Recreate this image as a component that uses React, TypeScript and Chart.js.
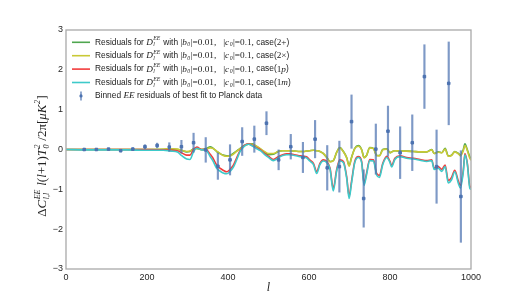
import React, { useEffect, useRef } from "react";
import { Chart, registerables } from "chart.js";
Chart.register(...registerables);

// ---- data ----
const curveL = [
  0, 50, 100, 150, 200, 240, 260, 275, 285, 298,
  306, 315, 323, 335, 347, 356, 362, 372, 380, 388,
  397, 405, 413, 421, 430, 440, 450, 460, 471, 480,
  490, 500, 512, 524, 535, 545, 553, 565, 578, 586,
  594, 602, 611, 619, 627, 635, 644, 652, 660, 668,
  676, 685, 693, 699, 705, 713, 722, 730, 736, 742,
  750, 759, 767, 774, 782, 792, 800, 804, 812, 825,
  841, 858, 874, 891, 903, 909, 919, 928, 936, 944,
  952, 960, 969, 974, 981, 985, 991, 997, 1000,
];
const case2plus = [
  0, 0, 0, 0, 0, 0, 0.01, 0, -0.02, -0.06,
  -0.05, 0.02, 0.03, 0, 0.03, 0.07, 0.04, -0.05, -0.1, -0.14,
  -0.16, -0.15, -0.1, -0.04, 0.03, 0.1, 0.13, 0.14, 0.07, 0.01,
  -0.07, -0.13, -0.12, -0.05, -0.03, -0.03, -0.03, -0.04, -0.05, -0.05,
  -0.04, -0.03, -0.02, -0.03, -0.05, -0.1, -0.2, -0.3, -0.28, -0.08,
  0.05, -0.05, -0.2, -0.4, -0.2, 0.03, 0.1, 0, -0.2, -0.15,
  0.05, 0.03, -0.15, -0.15, 0, 0.02, -0.08, -0.06, -0.03, -0.04,
  -0.04, -0.05, -0.06, -0.06, 0, -0.1, -0.06, -0.08, 0.03, -0.16,
  -0.14, -0.05, -0.1, -0.14, 0, 0.14, -0.01, -0.18, -0.23,
];
const case2times = [
  0, 0, 0, 0, 0, 0.01, 0.02, 0.01, -0.02, -0.05,
  -0.04, 0.01, 0.02, 0, 0.01, 0.04, 0.03, -0.04, -0.1, -0.15,
  -0.17, -0.16, -0.12, -0.05, 0.02, 0.09, 0.13, 0.13, 0.08, 0.02,
  -0.05, -0.1, -0.1, -0.05, -0.03, -0.03, -0.03, -0.04, -0.05, -0.05,
  -0.04, -0.03, -0.02, -0.03, -0.05, -0.1, -0.2, -0.31, -0.28, -0.08,
  0.04, -0.06, -0.21, -0.42, -0.21, 0.02, 0.08, -0.01, -0.21, -0.15,
  0.04, 0.02, -0.15, -0.16, -0.01, 0.01, -0.08, -0.06, -0.03, -0.04,
  -0.04, -0.05, -0.06, -0.06, -0.01, -0.1, -0.07, -0.08, 0.01, -0.17,
  -0.15, -0.06, -0.11, -0.16, -0.03, 0.1, -0.03, -0.22, -0.27,
];
const case1p = [
  0, 0, 0, 0, 0, -0.01, -0.02, -0.03, -0.08, -0.14,
  -0.14, 0, 0.06, 0, -0.01, -0.12, -0.2, -0.39, -0.47, -0.52,
  -0.56, -0.5, -0.4, -0.22, -0.02, 0.1, 0.14, 0.1, 0.04, -0.01,
  -0.1, -0.17, -0.25, -0.18, -0.13, -0.11, -0.11, -0.13, -0.16, -0.17,
  -0.18, -0.26, -0.35, -0.55, -0.35, -0.26, -0.3, -0.47, -0.98, -0.52,
  -0.26, -0.3, -0.68, -1.17, -0.8, -0.3, -0.18, -0.3, -0.85, -0.6,
  -0.25, -0.26, -0.6, -0.65, -0.35, -0.17, -0.3, -0.4, -0.22, -0.16,
  -0.2, -0.22, -0.25, -0.28, -0.26, -0.47, -0.43, -0.5, -0.39, -0.78,
  -0.7, -0.52, -0.8, -0.9, -0.52, -0.1, -0.35, -0.92, -0.95,
];
const case1m = [
  0, -0.01, -0.01, -0.01, -0.02, -0.02, -0.04, -0.06, -0.15, -0.24,
  -0.25, -0.05, 0.03, -0.01, -0.03, -0.18, -0.27, -0.47, -0.54, -0.59,
  -0.61, -0.55, -0.45, -0.27, -0.05, 0.08, 0.13, 0.09, 0.02, -0.03,
  -0.12, -0.2, -0.28, -0.21, -0.15, -0.13, -0.13, -0.15, -0.18, -0.19,
  -0.21, -0.29, -0.38, -0.6, -0.38, -0.29, -0.33, -0.5, -1.04, -0.56,
  -0.29, -0.33, -0.72, -1.23, -0.85, -0.33, -0.2, -0.33, -0.9, -0.64,
  -0.28, -0.29, -0.64, -0.7, -0.38, -0.2, -0.33, -0.44, -0.25, -0.18,
  -0.22, -0.24, -0.27, -0.3, -0.28, -0.5, -0.47, -0.55, -0.43, -0.84,
  -0.76, -0.56, -0.86, -0.97, -0.56, -0.13, -0.38, -0.97, -1.0,
];
const binL = [45, 75, 105, 135, 165, 195, 225, 255, 285, 315, 345, 375, 405, 435, 465, 495,
  525, 555, 585, 615, 645, 675, 705, 735, 765, 795, 825, 855, 885, 915, 945, 975];
const binV = [0.0, 0.0, 0.01, -0.03, 0.01, 0.07, 0.1, 0.06, 0.07, 0.17, -0.01, -0.42, -0.26, 0.2, 0.26, 0.66,
  -0.26, 0.07, -0.2, 0.26, -0.46, -0.43, 0.7, -1.23, 0.01, 0.46, -0.08, 0.17, 1.83, -0.43, 1.66, -1.18];
const binE = [0.01, 0.01, 0.02, 0.03, 0.03, 0.05, 0.06, 0.11, 0.16, 0.24, 0.31, 0.33, 0.38, 0.35, 0.33, 0.29,
  0.25, 0.31, 0.38, 0.47, 0.56, 0.64, 0.67, 0.72, 0.63, 0.63, 0.65, 0.7, 0.8, 0.92, 1.04, 1.15];
const xTicks = [0, 200, 400, 600, 800, 1000];
const yTicks = [-3, -2, -1, 0, 1, 2, 3];

const GREEN = "#4fa64f";
const YELLOW = "#c9c936";
const RED = "#f23c3c";
const CYAN = "#3ecaca";
const BLUE = "#4c72b0";

const SANS = "'Liberation Sans', Arial, sans-serif";
const SERIF = "'Liberation Serif', 'DejaVu Serif', serif";

type Seg = { t?: string; it?: boolean; serif?: boolean; sup?: string; sub?: string };

function drawRich(ctx: CanvasRenderingContext2D, x: number, y: number, segs: Seg[], size: number, draw = true): number {
  let cx = x;
  for (const s of segs) {
    if (s.sup !== undefined || s.sub !== undefined) {
      const ss = size * 0.68;
      ctx.font = `italic ${ss}px ${SERIF}`;
      let w = 0;
      if (s.sup) {
        const w1 = ctx.measureText(s.sup).width;
        if (draw) ctx.fillText(s.sup, cx + 0.5, y - size * 0.4);
        w = Math.max(w, w1);
      }
      if (s.sub) {
        const w2 = ctx.measureText(s.sub).width;
        if (draw) ctx.fillText(s.sub, cx + 0.5, y + size * 0.32);
        w = Math.max(w, w2);
      }
      cx += w + 1;
    } else if (s.t) {
      const fam = s.serif || s.it ? SERIF : SANS;
      ctx.font = `${s.it ? "italic " : ""}${s.serif || s.it ? size * 1.1 : size}px ${fam}`;
      if (draw) ctx.fillText(s.t, cx, y);
      cx += ctx.measureText(s.t).width;
    }
  }
  return cx - x;
}

function legendSegs(tail: Seg[]): Seg[] {
  return [
    { t: "Residuals for " },
    { t: "D", it: true },
    { sup: "EE", sub: "l" },
    { t: " with " },
    { t: "|", serif: true },
    { t: "b", it: true },
    { sub: "0" },
    { t: "|=0.01,", serif: true },
    { t: "   " },
    { t: "|", serif: true },
    { t: "c", it: true },
    { sub: "0" },
    { t: "|=0.1,", serif: true },
    { t: " case(" },
    ...tail,
    { t: ")" },
  ];
}

const legendRows: { color: string; segs: Seg[]; err?: boolean }[] = [
  { color: GREEN, segs: legendSegs([{ t: "2+", serif: true }]) },
  { color: YELLOW, segs: legendSegs([{ t: "2×", serif: true }]) },
  { color: RED, segs: legendSegs([{ t: "1", serif: true }, { t: "p", it: true }]) },
  { color: CYAN, segs: legendSegs([{ t: "1", serif: true }, { t: "m", it: true }]) },
  { color: BLUE, err: true, segs: [{ t: "Binned " }, { t: "EE", it: true }, { t: " residuals of best fit to Planck data" }] },
];

const decorPlugin = {
  id: "decor",
  afterDraw(chart: any) {
    const ctx: CanvasRenderingContext2D = chart.ctx;
    const a = chart.chartArea;
    ctx.save();
    // frame
    ctx.strokeStyle = "#a9a9a9";
    ctx.lineWidth = 1.3;
    ctx.strokeRect(a.left, a.top, a.right - a.left, a.bottom - a.top);
    // legend
    ctx.textBaseline = "middle";
    ctx.textAlign = "left";
    legendRows.forEach((r, i) => {
      const y = a.top + 12.3 + i * 13.4;
      if (r.err) {
        ctx.strokeStyle = r.color;
        ctx.lineWidth = 1.2;
        ctx.beginPath();
        ctx.moveTo(81, y - 4.5);
        ctx.lineTo(81, y + 4.5);
        ctx.stroke();
        ctx.fillStyle = r.color;
        ctx.beginPath();
        ctx.arc(81, y, 1.6, 0, Math.PI * 2);
        ctx.fill();
      } else {
        ctx.strokeStyle = r.color;
        ctx.lineWidth = 1.6;
        ctx.beginPath();
        ctx.moveTo(72, y);
        ctx.lineTo(90, y);
        ctx.stroke();
      }
      ctx.fillStyle = "#222";
      drawRich(ctx, 95, y, r.segs, 8.4);
    });
    // x title
    ctx.fillStyle = "#222";
    ctx.textAlign = "center";
    ctx.font = `italic 12px ${SERIF}`;
    ctx.fillText("l", (a.left + a.right) / 2, 288);
    // y title
    const ySegs: Seg[] = [
      { t: "Δ", serif: true },
      { t: "C", it: true },
      { sup: "EE", sub: "l,l" },
      { t: " ", serif: true },
      { t: "l", it: true },
      { t: "(", serif: true },
      { t: "l", it: true },
      { t: "+1)", serif: true },
      { t: "T", it: true },
      { sup: "2", sub: "0" },
      { t: " /2π[", serif: true },
      { t: "μK", it: true },
      { sup: "2" },
      { t: "]", serif: true },
    ];
    ctx.textAlign = "left";
    const w = drawRich(ctx, 0, 0, ySegs, 11.8, false);
    ctx.translate(43, 156);
    ctx.rotate(-Math.PI / 2);
    drawRich(ctx, -w / 2, 0, ySegs, 11.8);
    ctx.restore();
  },
};

export default function App() {
  const ref = useRef<HTMLCanvasElement | null>(null);
  useEffect(() => {
    document.body.style.margin = "0";
    const mk = (vals: number[]) => curveL.map((l, i) => ({ x: l, y: vals[i] }));
    const lineDs = (label: string, vals: number[], color: string, order: number) => ({
      type: "line" as const,
      label,
      data: mk(vals),
      borderColor: color,
      backgroundColor: color,
      borderWidth: 1.6,
      pointRadius: 0,
      cubicInterpolationMode: "monotone" as const,
      order,
    });
    const chart = new Chart(ref.current as HTMLCanvasElement, {
      type: "line",
      data: {
        datasets: [
          {
            type: "scatter",
            label: "Binned EE residuals of best fit to Planck data",
            data: binL.map((l, i) => ({ x: l, y: binV[i] })),
            backgroundColor: BLUE,
            borderColor: BLUE,
            pointRadius: 1.8,
            pointStyle: "rect",
            order: 0,
          } as any,
          {
            type: "bar",
            label: "err",
            data: binL.map((l, i) => ({ x: l, y: [binV[i] - binE[i], binV[i] + binE[i]] })),
            backgroundColor: "rgba(76,114,176,0.72)",
            barThickness: 1.5,
            order: 1,
          } as any,
          lineDs("case(1m)", case1m, CYAN, 2),
          lineDs("case(1p)", case1p, RED, 3),
          lineDs("case(2x)", case2times, YELLOW, 4),
          lineDs("case(2+)", case2plus, GREEN, 5),
        ],
      },
      options: {
        animation: false,
        responsive: false,
        devicePixelRatio: 1,
        layout: { padding: { top: 30, right: 52, left: 0, bottom: 0 } },
        plugins: { legend: { display: false }, tooltip: { enabled: false } },
        scales: {
          x: {
            type: "linear",
            min: 0,
            max: 1000,
            offset: false,
            afterBuildTicks: (s: any) => { s.ticks = xTicks.map((v) => ({ value: v })); },
            afterFit: (s: any) => { s.height = 31; },
            ticks: {
              color: "#262626",
              font: { size: 9, family: SANS },
              padding: 3,
              maxRotation: 0,
              callback: (v: any) => String(v),
            },
            grid: { display: false, drawTicks: false, offset: false },
            border: { display: false },
          },
          y: {
            type: "linear",
            min: -3,
            max: 3,
            afterBuildTicks: (s: any) => { s.ticks = yTicks.map((v) => ({ value: v })); },
            afterFit: (s: any) => { s.width = 66; },
            ticks: {
              color: "#262626",
              font: { size: 9, family: SANS },
              padding: 3,
              callback: (v: any) => String(v).replace("-", "−"),
            },
            grid: { display: false, drawTicks: false },
            border: { display: false },
          },
        },
      },
      plugins: [decorPlugin],
    });
    return () => chart.destroy();
  }, []);
  return (
    <div style={{ width: 523, height: 300 }}>
      <canvas ref={ref} width={523} height={300} style={{ width: 523, height: 300, display: "block" }} />
    </div>
  );
}
